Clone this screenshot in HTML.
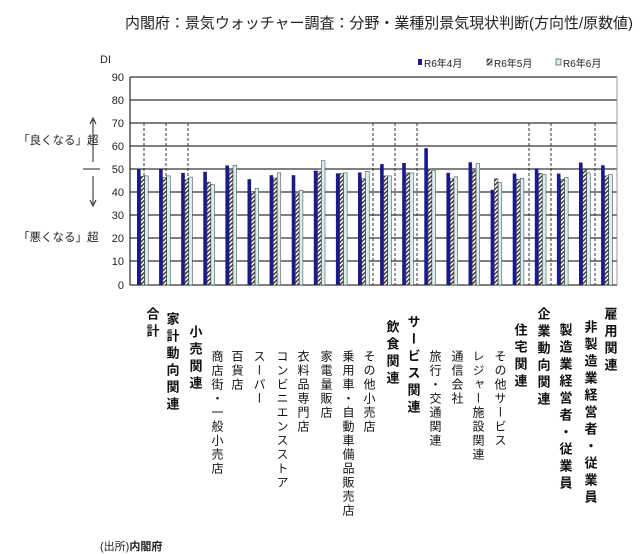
<!DOCTYPE html>
<html><head><meta charset="utf-8"><style>
html,body{margin:0;padding:0;background:#fff;}
svg{display:block;font-family:"Liberation Sans","Noto Sans CJK JP",sans-serif;}
.v{writing-mode:vertical-rl;font-size:12px;letter-spacing:2px;fill:#111}
.b{writing-mode:vertical-rl;font-size:13px;letter-spacing:4px;font-weight:bold;fill:#111}
.a{fill:#1a1a8c}
.h{fill:url(#h);stroke:#333;stroke-width:0.5}
.c{fill:#d6f0ee;stroke:#333;stroke-width:0.5}
</style></head><body>
<svg width="640" height="554" viewBox="0 0 640 554" xmlns="http://www.w3.org/2000/svg">
<defs>
<pattern id="h" width="3" height="3" patternUnits="userSpaceOnUse" patternTransform="rotate(45)">
<rect width="3" height="3" fill="#fff"/><rect width="1.4" height="3" fill="#333"/>
</pattern>
</defs>
<text x="125" y="28" font-size="15" fill="#222" textLength="508" lengthAdjust="spacingAndGlyphs">内閣府：景気ウォッチャー調査：分野・業種別景気現状判断(方向性/原数値)</text>
<text x="100" y="63" font-size="11" fill="#222">DI</text>
<g font-size="10" fill="#222">
<rect x="418" y="59" width="4" height="6" fill="#1a1a8c"/><text x="424" y="67">R6年4月</text>
<rect x="487" y="59" width="5" height="6" fill="url(#h)" stroke="#333" stroke-width="0.6"/><text x="494" y="67">R6年5月</text>
<rect x="556" y="59" width="5" height="6" fill="#d6f0ee" stroke="#333" stroke-width="0.6"/><text x="563" y="67">R6年6月</text>
</g>
<g stroke="#000" stroke-width="1">
<line x1="130" y1="77" x2="617" y2="77"/><line x1="130" y1="100" x2="617" y2="100"/><line x1="130" y1="123" x2="617" y2="123"/><line x1="130" y1="146" x2="617" y2="146"/><line x1="130" y1="169" x2="617" y2="169"/><line x1="130" y1="192" x2="617" y2="192"/><line x1="130" y1="215" x2="617" y2="215"/><line x1="130" y1="238" x2="617" y2="238"/><line x1="130" y1="261" x2="617" y2="261"/><line x1="130" y1="285" x2="617" y2="285"/>
<line x1="130" y1="77" x2="130" y2="285"/><line x1="617" y1="77" x2="617" y2="285" stroke="#999"/>
</g>
<g font-size="11" fill="#222" text-anchor="end">
<text x="124" y="81">90</text><text x="124" y="104">80</text><text x="124" y="127">70</text><text x="124" y="150">60</text><text x="124" y="173">50</text><text x="124" y="196">40</text><text x="124" y="219">30</text><text x="124" y="242">20</text><text x="124" y="265">10</text><text x="124" y="289">0</text>
</g>
<g stroke="#333" stroke-dasharray="3,2" stroke-width="1">
<line x1="144" y1="123" x2="144" y2="285"/><line x1="166" y1="123" x2="166" y2="285"/><line x1="188" y1="123" x2="188" y2="285"/><line x1="373" y1="123" x2="373" y2="285"/><line x1="395" y1="123" x2="395" y2="285"/><line x1="417" y1="123" x2="417" y2="285"/><line x1="529" y1="123" x2="529" y2="285"/><line x1="551" y1="123" x2="551" y2="285"/><line x1="595" y1="123" x2="595" y2="285"/>
</g>
<g>
<rect class="a" x="137" y="168.8" width="3.6" height="116.2"/><rect class="h" x="140.8" y="176.4" width="3.6" height="108.6"/><rect class="c" x="144.6" y="175.9" width="3.6" height="109.1"/>
<rect class="a" x="159.1" y="169.4" width="3.6" height="115.6"/><rect class="h" x="162.9" y="177.5" width="3.6" height="107.5"/><rect class="c" x="166.7" y="175.9" width="3.6" height="109.1"/>
<rect class="a" x="181.2" y="172.9" width="3.6" height="112.1"/><rect class="h" x="185" y="179.8" width="3.6" height="105.2"/><rect class="c" x="188.8" y="177.1" width="3.6" height="107.9"/>
<rect class="a" x="203.3" y="171.8" width="3.6" height="113.2"/><rect class="h" x="207.1" y="182.2" width="3.6" height="102.8"/><rect class="c" x="210.9" y="184.5" width="3.6" height="100.5"/>
<rect class="a" x="225.4" y="165.5" width="3.6" height="119.5"/><rect class="h" x="229.2" y="170.6" width="3.6" height="114.4"/><rect class="c" x="233" y="165.3" width="3.6" height="119.7"/>
<rect class="a" x="247.5" y="179.2" width="3.6" height="105.8"/><rect class="h" x="251.3" y="191.4" width="3.6" height="93.6"/><rect class="c" x="255.1" y="188.4" width="3.6" height="96.6"/>
<rect class="a" x="269.6" y="175.2" width="3.6" height="109.8"/><rect class="h" x="273.4" y="178" width="3.6" height="107"/><rect class="c" x="277.2" y="172.9" width="3.6" height="112.1"/>
<rect class="a" x="291.7" y="175.2" width="3.6" height="109.8"/><rect class="h" x="295.5" y="193.7" width="3.6" height="91.3"/><rect class="c" x="299.3" y="190.2" width="3.6" height="94.8"/>
<rect class="a" x="313.8" y="170.6" width="3.6" height="114.4"/><rect class="h" x="317.6" y="171.8" width="3.6" height="113.2"/><rect class="c" x="321.4" y="160.7" width="3.6" height="124.3"/>
<rect class="a" x="335.9" y="173.4" width="3.6" height="111.6"/><rect class="h" x="339.7" y="173.6" width="3.6" height="111.4"/><rect class="c" x="343.5" y="172.9" width="3.6" height="112.1"/>
<rect class="a" x="358" y="172.5" width="3.6" height="112.5"/><rect class="h" x="361.8" y="178.7" width="3.6" height="106.3"/><rect class="c" x="365.6" y="171.3" width="3.6" height="113.7"/>
<rect class="a" x="380.1" y="164.1" width="3.6" height="120.9"/><rect class="h" x="383.9" y="175.9" width="3.6" height="109.1"/><rect class="c" x="387.7" y="175.9" width="3.6" height="109.1"/>
<rect class="a" x="402.2" y="163" width="3.6" height="122"/><rect class="h" x="406" y="172.9" width="3.6" height="112.1"/><rect class="c" x="409.8" y="172.9" width="3.6" height="112.1"/>
<rect class="a" x="424.3" y="148.2" width="3.6" height="136.8"/><rect class="h" x="428.1" y="168.8" width="3.6" height="116.2"/><rect class="c" x="431.9" y="170.6" width="3.6" height="114.4"/>
<rect class="a" x="446.4" y="172.9" width="3.6" height="112.1"/><rect class="h" x="450.2" y="178.7" width="3.6" height="106.3"/><rect class="c" x="454" y="176.8" width="3.6" height="108.2"/>
<rect class="a" x="468.5" y="162.3" width="3.6" height="122.7"/><rect class="h" x="472.3" y="170.6" width="3.6" height="114.4"/><rect class="c" x="476.1" y="163.7" width="3.6" height="121.3"/>
<rect class="a" x="490.6" y="189.8" width="3.6" height="95.2"/><rect class="h" x="494.4" y="178.7" width="3.6" height="106.3"/><rect class="c" x="498.2" y="182.6" width="3.6" height="102.4"/>
<rect class="a" x="512.7" y="173.6" width="3.6" height="111.4"/><rect class="h" x="516.5" y="179.2" width="3.6" height="105.8"/><rect class="c" x="520.3" y="178.2" width="3.6" height="106.8"/>
<rect class="a" x="534.8" y="168.3" width="3.6" height="116.7"/><rect class="h" x="538.6" y="173.4" width="3.6" height="111.6"/><rect class="c" x="542.4" y="174.5" width="3.6" height="110.5"/>
<rect class="a" x="556.9" y="173.6" width="3.6" height="111.4"/><rect class="h" x="560.7" y="179.2" width="3.6" height="105.8"/><rect class="c" x="564.5" y="177.5" width="3.6" height="107.5"/>
<rect class="a" x="579" y="162.5" width="3.6" height="122.5"/><rect class="h" x="582.8" y="169.4" width="3.6" height="115.6"/><rect class="c" x="586.6" y="172.9" width="3.6" height="112.1"/>
<rect class="a" x="601.1" y="165.3" width="3.6" height="119.7"/><rect class="h" x="604.9" y="175.9" width="3.6" height="109.1"/><rect class="c" x="608.7" y="174.5" width="3.6" height="110.5"/>
</g>
<g font-size="11.5" fill="#222">
<text x="18" y="144">「良くなる」超</text>
<text x="18" y="241">「悪くなる」超</text>
</g>
<g stroke="#222" stroke-width="1" fill="none">
<line x1="83" y1="169" x2="100" y2="169"/>
<line x1="93" y1="120" x2="93" y2="162"/><path d="M90,124 L93,118 L96,124"/>
<line x1="93" y1="176" x2="93" y2="204"/><path d="M90,200 L93,206 L96,200"/>
</g>
<g>
<text class="b" x="152" y="307">合計</text>
<text class="b" x="172" y="312">家計動向関連</text>
<text class="b" x="195" y="325">小売関連</text>
<text class="v" x="217" y="350">商店街・一般小売店</text>
<text class="v" x="237" y="350">百貨店</text>
<text class="v" x="259" y="350">スーパー</text>
<text class="v" x="282" y="350">コンビニエンスストア</text>
<text class="v" x="303" y="350">衣料品専門店</text>
<text class="v" x="326" y="350">家電量販店</text>
<text class="v" x="348" y="350">乗用車・自動車備品販売店</text>
<text class="v" x="369" y="350">その他小売店</text>
<text class="b" x="392" y="320">飲食関連</text>
<text class="b" x="413" y="315">サービス関連</text>
<text class="v" x="435" y="350">旅行・交通関連</text>
<text class="v" x="457" y="350">通信会社</text>
<text class="v" x="478" y="350">レジャー施設関連</text>
<text class="v" x="500" y="350">その他サービス</text>
<text class="b" x="520" y="323">住宅関連</text>
<text class="b" x="543" y="307">企業動向関連</text>
<text class="b" x="565" y="323">製造業経営者・従業員</text>
<text class="b" x="590" y="320">非製造業経営者・従業員</text>
<text class="b" x="610" y="307">雇用関連</text>
</g>
<text x="100" y="550" font-size="11" fill="#222">(出所)<tspan font-weight="bold">内閣府</tspan></text>
</svg>
</body></html>
